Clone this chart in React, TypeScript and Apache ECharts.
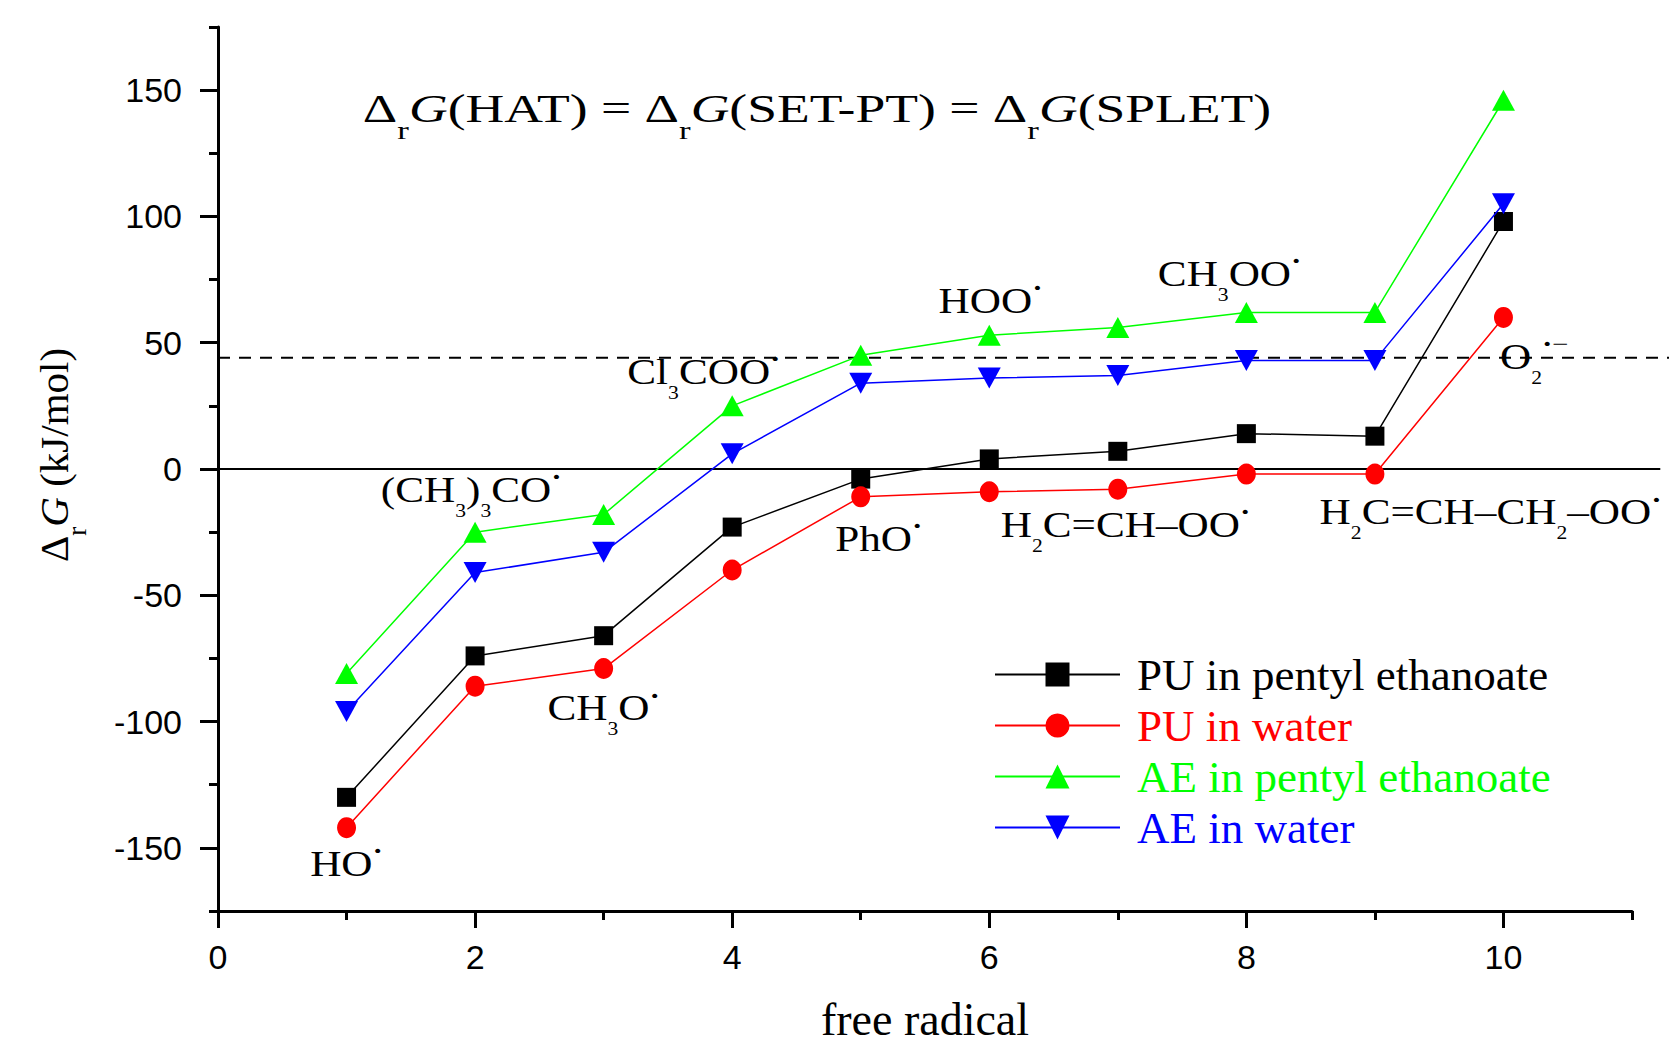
import React, { useEffect, useRef } from "react";
import * as echarts from "echarts";

// ---- data -------------------------------------------------------------
const radicalIndex = [1, 2, 3, 4, 5, 6, 7, 8, 9, 10];
const puPentylEthanoate = [-130, -74, -66, -23, -4, 4, 7, 14, 13, 98];
const puWater = [-142, -86, -79, -40, -11, -9, -8, -2, -2, 60];
const aePentylEthanoate = [-81, -25, -18, 25, 45, 53, 56, 62, 62, 146];
const aeWater = [-96, -41, -33, 6, 34, 36, 37, 43, 43, 105];

const seriesNames = ["PU in pentyl ethanoate", "PU in water", "AE in pentyl ethanoate", "AE in water"];
const seriesValues = [puPentylEthanoate, puWater, aePentylEthanoate, aeWater];
const seriesColors = ["#000000", "#ff0000", "#00ff00", "#0000ff"];
const seriesSymbols = ["rect", "circle", "triangle", "triangle"];
const seriesSymbolRotate = [0, 0, 0, 180];

const xMajorTicks = [0, 2, 4, 6, 8, 10];
const xMinorTicks = [1, 3, 5, 7, 9, 11];
const yMajorTicks = [-150, -100, -50, 0, 50, 100, 150];
const yMinorTicks = [-175, -125, -75, -25, 25, 75, 125, 175];

const zeroLineValue = 0;
const thresholdValue = 44;

// radical name annotations, anchored in data coordinates
const radicalLabelTexts = [
  "{n|HO}{dot|·}",
  "{n|(CH}{sub|3}{n|)}{sub|3}{n|CO}{dot|·}",
  "{n|CH}{sub|3}{n|O}{dot|·}",
  "{n|Cl}{sub|3}{n|COO}{dot|·}",
  "{n|PhO}{dot|·}",
  "{n|HOO}{dot|·}",
  "{n|H}{sub|2}{n|C=CH–OO}{dot|·}",
  "{n|CH}{sub|3}{n|OO}{dot|·}",
  "{n|H}{sub|2}{n|C=CH–CH}{sub|2}{n|–OO}{dot|·}",
  "{n|O}{sub|2}{dot|·}{sup|−}",
];
const radicalLabelX = [1.0, 1.97, 3.0, 3.78, 5.14, 6.01, 7.06, 7.87, 9.9, 10.24];
const radicalLabelY = [-156.5, -8.4, -94.9, 38.3, -27.8, 66.5, -22.3, 77.1, -17.3, 44.2];

const SERIF = "'Liberation Serif', 'Times New Roman', serif";
const SANS = "'Liberation Sans', Arial, sans-serif";

const annRich = {
  n: { fontFamily: SERIF, fontSize: 36, fill: "#000" },
  sub: { fontFamily: SERIF, fontSize: 18, fill: "#000", padding: [40, 0, 0, 0] },
  dot: { fontFamily: SERIF, fontSize: 26, fontWeight: "bold", fill: "#000", padding: [0, 0, 28, 0] },
  sup: { fontFamily: SERIF, fontSize: 24, fill: "#000", padding: [0, 0, 28, 0] },
};

const titleText =
  "{d|Δ}{r|r}{g|G}{t|(HAT) = }{d|Δ}{r|r}{g|G}{t|(SET-PT) = }{d|Δ}{r|r}{g|G}{t|(SPLET)}";
const titleRich = {
  d: { fontFamily: SERIF, fontSize: 40, fill: "#000" },
  r: { fontFamily: SERIF, fontSize: 26, fill: "#000", padding: [45, 0, 0, 0] },
  g: { fontFamily: SERIF, fontSize: 40, fontStyle: "italic", fill: "#000" },
  t: { fontFamily: SERIF, fontSize: 40, fill: "#000" },
};

function buildOption() {
  const axisLineStyle = { color: "#000", width: 3 };
  return {
    animation: false,
    backgroundColor: "#ffffff",
    grid: { left: 218, right: 37, top: 27, bottom: 132, containLabel: false, outerBoundsMode: "none" },
    legend: {
      orient: "vertical",
      left: 989,
      top: 647,
      padding: 5,
      itemWidth: 125,
      itemHeight: 30,
      itemGap: 6,
      data: seriesNames.map((n, i) => ({ name: n, textStyle: { color: seriesColors[i] } })),
      textStyle: { fontFamily: SERIF, fontSize: 45, padding: [0, 0, 0, 12] },
    },
    xAxis: [
      {
        type: "value",
        min: 0,
        max: 11,
        position: "bottom",
        name: "free radical",
        nameLocation: "middle",
        nameGap: 85,
        nameTextStyle: { fontFamily: SERIF, fontSize: 46, color: "#000" },
        axisLine: { show: true, onZero: false, lineStyle: axisLineStyle },
        axisTick: { show: true, customValues: xMajorTicks, length: 17, lineStyle: { color: "#000", width: 3 } },
        axisLabel: { show: true, customValues: xMajorTicks, margin: 29, fontFamily: SANS, fontSize: 34, color: "#000" },
        splitLine: { show: false },
      },
      {
        type: "value",
        min: 0,
        max: 11,
        position: "bottom",
        axisLine: { show: false, onZero: false },
        axisTick: { show: true, customValues: xMinorTicks, length: 9, lineStyle: { color: "#000", width: 3 } },
        axisLabel: { show: false },
        splitLine: { show: false },
      },
    ],
    yAxis: [
      {
        type: "value",
        min: -175,
        max: 175,
        position: "left",
        name: "{d|Δ}{r|r}{g|G}{t| (kJ/mol)}",
        nameLocation: "middle",
        nameRotate: 90,
        nameGap: 128,
        nameTextStyle: {
          fontFamily: SERIF,
          fontSize: 41,
          color: "#000",
          rich: {
            d: { fontFamily: SERIF, fontSize: 41, color: "#000", padding: [0, 0, 0, 28] },
            r: { fontFamily: SERIF, fontSize: 27, color: "#000", padding: [45, 0, 0, 0] },
            g: { fontFamily: SERIF, fontSize: 41, fontStyle: "italic", color: "#000" },
            t: { fontFamily: SERIF, fontSize: 41, color: "#000" },
          },
        },
        axisLine: { show: true, onZero: false, lineStyle: axisLineStyle },
        axisTick: { show: true, customValues: yMajorTicks, length: 18, lineStyle: { color: "#000", width: 3 } },
        axisLabel: { show: true, customValues: yMajorTicks, margin: 36, fontFamily: SANS, fontSize: 34, color: "#000" },
        splitLine: { show: false },
      },
      {
        type: "value",
        min: -175,
        max: 175,
        position: "left",
        axisLine: { show: false, onZero: false },
        axisTick: { show: true, customValues: yMinorTicks, length: 9, lineStyle: { color: "#000", width: 3 } },
        axisLabel: { show: false },
        splitLine: { show: false },
      },
    ],
    series: seriesNames.map((name, i) => ({
      type: "line",
      name,
      xAxisIndex: 0,
      yAxisIndex: 0,
      data: radicalIndex.map((x, j) => [x, seriesValues[i][j]]),
      symbol: seriesSymbols[i],
      symbolRotate: seriesSymbolRotate[i],
      symbolSize: i === 0 ? [19, 19] : i === 1 ? [19, 21] : [23, 21],
      showAllSymbol: true,
      lineStyle: { color: seriesColors[i], width: 1.5 },
      itemStyle: { color: seriesColors[i] },
      z: 3 + i,
    })),
  };
}

export default function App() {
  const ref = useRef<HTMLDivElement>(null);

  useEffect(() => {
    document.body.style.margin = "0";
    if (!ref.current) return;
    const chart = echarts.init(ref.current, null, { renderer: "svg" });
    chart.setOption(buildOption());

    const toPx = (x: number, y: number) => chart.convertToPixel({ seriesIndex: 0 }, [x, y]) as number[];

    const zs = toPx(0, zeroLineValue);
    const ze = toPx(11.22, zeroLineValue);
    const ds = toPx(0, thresholdValue);
    const de = toPx(11.32, thresholdValue);

    const graphics: any[] = [
      {
        type: "line",
        z: 1,
        shape: { x1: zs[0], y1: zs[1], x2: ze[0], y2: ze[1] },
        style: { stroke: "#000", lineWidth: 2 },
      },
      {
        type: "line",
        z: 1,
        shape: { x1: ds[0], y1: ds[1], x2: de[0], y2: de[1] },
        style: { stroke: "#000", lineWidth: 2, lineDash: [12, 9] },
      },
      {
        type: "text",
        z: 10,
        x: 817,
        y: 108,
        scaleX: 1.34,
        style: {
          text: titleText,
          rich: titleRich,
          fontFamily: SERIF,
          fontSize: 40,
          fill: "#000",
          align: "center",
          verticalAlign: "middle",
        },
      },
    ];

    radicalLabelTexts.forEach((t, i) => {
      const p = toPx(radicalLabelX[i], radicalLabelY[i]);
      graphics.push({
        type: "text",
        z: 10,
        x: p[0],
        y: p[1],
        scaleX: 1.2,
        style: {
          text: t,
          rich: annRich,
          fontFamily: SERIF,
          fontSize: 36,
          fill: "#000",
          align: "center",
          verticalAlign: "middle",
        },
      });
    });

    chart.setOption({ graphic: graphics });

    return () => {
      chart.dispose();
    };
  }, []);

  return <div ref={ref} style={{ width: 1669, height: 1043 }} />;
}
